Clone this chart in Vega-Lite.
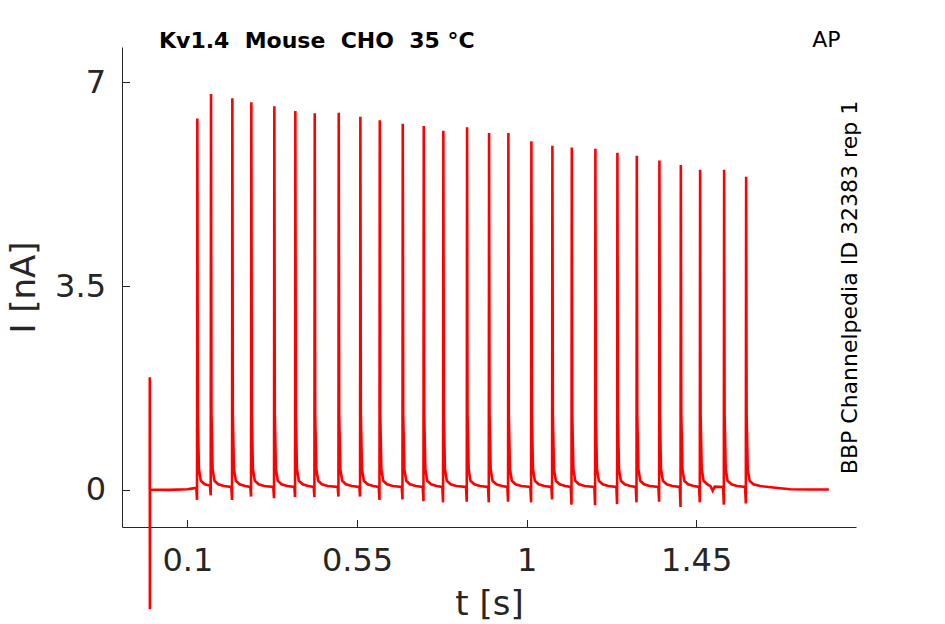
{
 "$schema": "https://vega.github.io/schema/vega-lite/v6.json",
 "width": 734,
 "height": 480,
 "autosize": {"type": "none"},
 "padding": {"left": 122, "top": 47, "right": 89, "bottom": 97},
 "background": "white",
 "config": {"view": {"stroke": null}, "font": "DejaVu Sans"},
 "title": {"text": "Kv1.4 \u00a0Mouse \u00a0CHO \u00a035 °C", "anchor": "start", "frame": "group", "fontSize": 22, "fontWeight": "bold", "font": "DejaVu Sans", "color": "#000000", "baseline": "alphabetic", "offset": 0, "dx": 37, "dy": 42},
 "layer": [
  {
   "data": {"values": [
    {"t":0,"i":0},{"t":0.0002,"i":1.93},{"t":0.0004,"i":-2.06},{"t":0.0008,"i":0},{"t":0.05,"i":-0.005},{"t":0.1,"i":0.005},{"t":0.115,"i":0.02},
    {"t":0.1235,"i":0.035},{"t":0.1255,"i":-0.18},{"t":0.1263,"i":6.38},{"t":0.1275,"i":1.3},{"t":0.1305,"i":0.35},{"t":0.1355,"i":0.15},{"t":0.1455,"i":0.09},
    {"t":0.1598,"i":0.07},{"t":0.1618,"i":-0.10},{"t":0.1626,"i":6.80},{"t":0.1638,"i":1.3},{"t":0.1668,"i":0.35},{"t":0.1718,"i":0.15},{"t":0.1818,"i":0.09},{"t":0.1968,"i":0.06},
    {"t":0.2164,"i":0.045},{"t":0.2184,"i":-0.18},{"t":0.2192,"i":6.73},{"t":0.2204,"i":1.3},{"t":0.2234,"i":0.35},{"t":0.2284,"i":0.15},{"t":0.2384,"i":0.09},{"t":0.2534,"i":0.06},
    {"t":0.2668,"i":0.045},{"t":0.2688,"i":-0.12},{"t":0.2696,"i":6.66},{"t":0.2708,"i":1.3},{"t":0.2738,"i":0.35},{"t":0.2788,"i":0.15},{"t":0.2888,"i":0.09},{"t":0.3038,"i":0.06},
    {"t":0.3278,"i":0.045},{"t":0.3298,"i":-0.15},{"t":0.3306,"i":6.59},{"t":0.3318,"i":1.3},{"t":0.3348,"i":0.35},{"t":0.3398,"i":0.15},{"t":0.3498,"i":0.09},{"t":0.3648,"i":0.06},
    {"t":0.3836,"i":0.045},{"t":0.3856,"i":-0.13},{"t":0.3864,"i":6.51},{"t":0.3876,"i":1.3},{"t":0.3906,"i":0.35},{"t":0.3956,"i":0.15},{"t":0.4056,"i":0.09},{"t":0.4206,"i":0.06},
    {"t":0.4350,"i":0.045},{"t":0.4370,"i":-0.13},{"t":0.4378,"i":6.47},{"t":0.4390,"i":1.3},{"t":0.4420,"i":0.35},{"t":0.4470,"i":0.15},{"t":0.4570,"i":0.09},{"t":0.4720,"i":0.06},
    {"t":0.4987,"i":0.045},{"t":0.5007,"i":-0.12},{"t":0.5015,"i":6.48},{"t":0.5027,"i":1.3},{"t":0.5057,"i":0.35},{"t":0.5107,"i":0.15},{"t":0.5207,"i":0.09},{"t":0.5357,"i":0.06},
    {"t":0.5561,"i":0.045},{"t":0.5581,"i":-0.12},{"t":0.5589,"i":6.41},{"t":0.5601,"i":1.3},{"t":0.5631,"i":0.35},{"t":0.5681,"i":0.15},{"t":0.5781,"i":0.09},{"t":0.5931,"i":0.06},
    {"t":0.6076,"i":0.045},{"t":0.6096,"i":-0.18},{"t":0.6104,"i":6.35},{"t":0.6116,"i":1.3},{"t":0.6146,"i":0.35},{"t":0.6196,"i":0.15},{"t":0.6296,"i":0.09},{"t":0.6446,"i":0.06},
    {"t":0.6686,"i":0.045},{"t":0.6706,"i":-0.17},{"t":0.6714,"i":6.29},{"t":0.6726,"i":1.3},{"t":0.6756,"i":0.35},{"t":0.6806,"i":0.15},{"t":0.6906,"i":0.09},{"t":0.7056,"i":0.06},
    {"t":0.7243,"i":0.045},{"t":0.7263,"i":-0.20},{"t":0.7271,"i":6.25},{"t":0.7283,"i":1.3},{"t":0.7313,"i":0.35},{"t":0.7363,"i":0.15},{"t":0.7463,"i":0.09},{"t":0.7613,"i":0.06},
    {"t":0.7763,"i":0.045},{"t":0.7783,"i":-0.22},{"t":0.7791,"i":6.17},{"t":0.7803,"i":1.3},{"t":0.7833,"i":0.35},{"t":0.7883,"i":0.15},{"t":0.7983,"i":0.09},{"t":0.8133,"i":0.06},
    {"t":0.8392,"i":0.045},{"t":0.8412,"i":-0.21},{"t":0.8420,"i":6.23},{"t":0.8432,"i":1.3},{"t":0.8462,"i":0.35},{"t":0.8512,"i":0.15},{"t":0.8612,"i":0.09},{"t":0.8762,"i":0.06},
    {"t":0.8976,"i":0.045},{"t":0.8996,"i":-0.22},{"t":0.9004,"i":6.13},{"t":0.9016,"i":1.3},{"t":0.9046,"i":0.35},{"t":0.9096,"i":0.15},{"t":0.9196,"i":0.09},{"t":0.9346,"i":0.06},
    {"t":0.9488,"i":0.045},{"t":0.9508,"i":-0.21},{"t":0.9516,"i":6.13},{"t":0.9528,"i":1.3},{"t":0.9558,"i":0.35},{"t":0.9608,"i":0.15},{"t":0.9708,"i":0.09},{"t":0.9858,"i":0.06},
    {"t":1.0099,"i":0.045},{"t":1.0119,"i":-0.22},{"t":1.0127,"i":5.99},{"t":1.0139,"i":1.3},{"t":1.0169,"i":0.35},{"t":1.0219,"i":0.15},{"t":1.0319,"i":0.09},{"t":1.0469,"i":0.06},
    {"t":1.0656,"i":0.045},{"t":1.0676,"i":-0.17},{"t":1.0684,"i":5.91},{"t":1.0696,"i":1.3},{"t":1.0726,"i":0.35},{"t":1.0776,"i":0.15},{"t":1.0876,"i":0.09},{"t":1.1026,"i":0.06},
    {"t":1.1171,"i":0.045},{"t":1.1191,"i":-0.26},{"t":1.1199,"i":5.88},{"t":1.1211,"i":1.3},{"t":1.1241,"i":0.35},{"t":1.1291,"i":0.15},{"t":1.1391,"i":0.09},{"t":1.1541,"i":0.06},
    {"t":1.1797,"i":0.045},{"t":1.1817,"i":-0.27},{"t":1.1825,"i":5.86},{"t":1.1837,"i":1.3},{"t":1.1867,"i":0.35},{"t":1.1917,"i":0.15},{"t":1.2017,"i":0.09},{"t":1.2167,"i":0.06},
    {"t":1.2381,"i":0.045},{"t":1.2401,"i":-0.25},{"t":1.2409,"i":5.79},{"t":1.2421,"i":1.3},{"t":1.2451,"i":0.35},{"t":1.2501,"i":0.15},{"t":1.2601,"i":0.09},{"t":1.2751,"i":0.06},
    {"t":1.2896,"i":0.045},{"t":1.2916,"i":-0.22},{"t":1.2924,"i":5.74},{"t":1.2936,"i":1.3},{"t":1.2966,"i":0.35},{"t":1.3016,"i":0.15},{"t":1.3116,"i":0.09},{"t":1.3266,"i":0.06},
    {"t":1.3496,"i":0.045},{"t":1.3516,"i":-0.21},{"t":1.3524,"i":5.66},{"t":1.3536,"i":1.3},{"t":1.3566,"i":0.35},{"t":1.3616,"i":0.15},{"t":1.3716,"i":0.09},{"t":1.3866,"i":0.06},
    {"t":1.4064,"i":0.045},{"t":1.4084,"i":-0.30},{"t":1.4092,"i":5.58},{"t":1.4104,"i":1.3},{"t":1.4134,"i":0.35},{"t":1.4184,"i":0.15},{"t":1.4284,"i":0.09},{"t":1.4434,"i":0.06},
    {"t":1.4576,"i":0.045},{"t":1.4596,"i":-0.22},{"t":1.4604,"i":5.50},{"t":1.4616,"i":1.3},{"t":1.4646,"i":0.35},{"t":1.4696,"i":0.15},{"t":1.4796,"i":0.09},{"t":1.4880,"i":0.06},{"t":1.4936,"i":-0.02},{"t":1.4990,"i":0.05},
    {"t":1.5213,"i":0.045},{"t":1.5233,"i":-0.26},{"t":1.5241,"i":5.50},{"t":1.5253,"i":1.3},{"t":1.5283,"i":0.35},{"t":1.5333,"i":0.15},{"t":1.5433,"i":0.09},{"t":1.5583,"i":0.06},
    {"t":1.5797,"i":0.045},{"t":1.5817,"i":-0.24},{"t":1.5825,"i":5.38},{"t":1.5837,"i":1.3},{"t":1.5867,"i":0.35},{"t":1.5917,"i":0.15},{"t":1.6017,"i":0.09},
    {"t":1.62,"i":0.06},{"t":1.66,"i":0.03},{"t":1.70,"i":0.005},{"t":1.75,"i":0},{"t":1.802,"i":0}
   ]},
   "mark": {"type": "line", "color": "#ff0000", "strokeWidth": 2.6, "clip": false},
   "encoding": {
    "x": {"field": "t", "type": "quantitative", "sort": null,
     "scale": {"domain": [-0.0736, 1.874], "nice": false, "zero": false},
     "axis": {"values": [0.1, 0.55, 1, 1.45], "labelExpr": "'' + datum.value", "title": "t [s]", "grid": false,
      "tickSize": -7.5, "tickColor": "#262626", "domainColor": "#262626", "domainWidth": 1,
      "labelFontSize": 32, "labelColor": "#262626", "labelFont": "DejaVu Sans", "labelPadding": 26,
      "titleFontSize": 34, "titleFontWeight": "normal", "titleColor": "#262626", "titleFont": "DejaVu Sans", "titlePadding": 11}},
    "y": {"field": "i", "type": "quantitative",
     "scale": {"domain": [-0.644, 7.61], "nice": false, "zero": false},
     "axis": {"values": [0, 3.5, 7], "labelExpr": "'' + datum.value", "title": "I [nA]", "grid": false,
      "tickSize": -7.5, "tickColor": "#262626", "domainColor": "#262626", "domainWidth": 1,
      "labelFontSize": 32, "labelColor": "#262626", "labelFont": "DejaVu Sans", "labelPadding": 24,
      "titleFontSize": 34, "titleFontWeight": "normal", "titleColor": "#262626", "titleFont": "DejaVu Sans", "titlePadding": 13}}
   }
  },
  {
   "data": {"values": [{}]},
   "mark": {"type": "point", "opacity": 0},
   "encoding": {
    "x": {"datum": 1, "type": "quantitative", "scale": {"domain": [-0.0736, 1.874], "nice": false, "zero": false},
     "axis": {"orient": "top", "title": "AP", "labels": false, "ticks": false, "domain": false, "grid": false,
      "titleFontSize": 22, "titleFontWeight": "normal", "titleColor": "#000000", "titleFont": "DejaVu Sans",
      "titleBaseline": "alphabetic", "titlePadding": 1, "titleAnchor": "end", "titleX": 718, "titleAlign": "right"}},
    "y": {"datum": 1, "type": "quantitative", "scale": {"domain": [-0.644, 7.61], "nice": false, "zero": false},
     "axis": {"orient": "right", "title": "BBP Channelpedia ID 32383 rep 1", "labels": false, "ticks": false, "domain": false, "grid": false,
      "titleFontSize": 22, "titleFontWeight": "normal", "titleColor": "#000000", "titleFont": "DejaVu Sans",
      "titleAngle": 270, "titleBaseline": "alphabetic", "titlePadding": 0}}
   }
  }
 ],
 "resolve": {"axis": {"x": "independent", "y": "independent"}}
}
